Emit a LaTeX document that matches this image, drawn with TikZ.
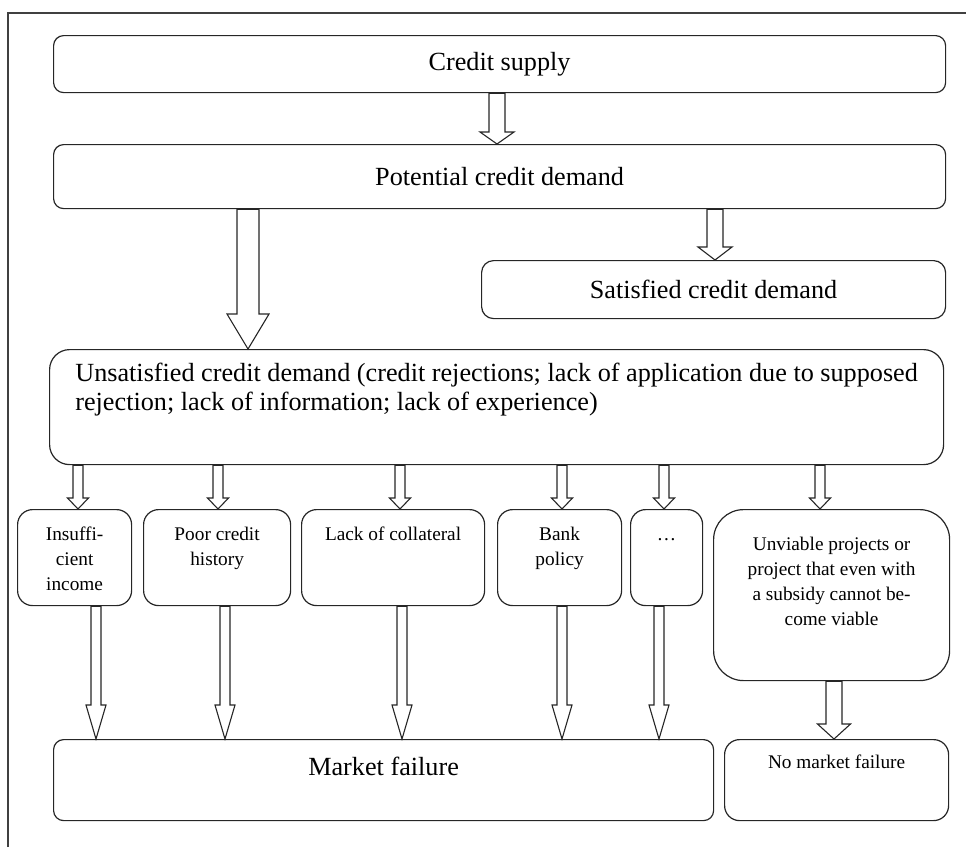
\documentclass[tikz,border=0pt]{standalone}
\usepackage{fontspec}
\setmainfont{Liberation Serif}
\usetikzlibrary{calc}

\tikzset{
  box/.style={draw=black!85, line width=1.2pt, rounded corners=10pt, anchor=north west, inner sep=0pt},
  bigtext/.style={font=\fontsize{26.2}{29}\selectfont},
  smalltext/.style={font=\fontsize{19.3}{25}\selectfont},
  txt/.style={anchor=north, align=center, inner sep=0pt},
  blockarrow/.style={draw=black!85, line width=1.1pt, fill=white, line join=miter}
}

% hollow arrow: x position, from, to, half shaft, half head, head length
\newcommand{\hollowarrow}[6]{%
  \draw[blockarrow] let \p1=(#2.south), \p2=(#3.north) in
    (#1pt-#4pt,\y1) -- (#1pt-#4pt,\y2+#6pt) -- (#1pt-#5pt,\y2+#6pt) -- (#1pt,\y2)
    -- (#1pt+#5pt,\y2+#6pt) -- (#1pt+#4pt,\y2+#6pt) -- (#1pt+#4pt,\y1) -- cycle;}

\begin{document}
\begin{tikzpicture}[x=1pt,y=-1pt]
\useasboundingbox (0,0) rectangle (966,847);
\draw[line width=2pt,black!75] (8,847) -- (8,13) -- (966,13);

  \node[box, bigtext, minimum width=892pt, minimum height=57pt] (supply) at (53,35) {Credit supply};
  \node[box, bigtext, minimum width=892pt, minimum height=64pt] (potential) at (53,144) {Potential credit demand};
  \node[box, bigtext, rounded corners=12pt, minimum width=464pt, minimum height=58pt] (satisfied) at (481,260) {Satisfied credit demand};
  \node[box, rounded corners=20pt, minimum width=894pt, minimum height=115pt,
    label={[txt, bigtext, align=left, yshift=-14pt]north:{Unsatisfied credit demand (credit rejections; lack of application due to supposed\\rejection; lack of information; lack of experience)}}] (unsat) at (49,349) {};

  % reasons
  \node[box, rounded corners=15pt, minimum width=114pt, minimum height=96pt,
    label={[txt, smalltext, yshift=-18pt]north:{Insuffi-\\cient\\income}}] (income) at (17,509) {};
  \node[box, rounded corners=15pt, minimum width=147pt, minimum height=96pt,
    label={[txt, smalltext, yshift=-18pt]north:{Poor credit\\history}}] (history) at (143,509) {};
  \node[box, rounded corners=15pt, minimum width=183pt, minimum height=96pt,
    label={[txt, smalltext, yshift=-18pt]north:{Lack of collateral}}] (collateral) at (301,509) {};
  \node[box, rounded corners=15pt, minimum width=124pt, minimum height=96pt,
    label={[txt, smalltext, yshift=-18pt]north:{Bank\\policy}}] (policy) at (497,509) {};
  \node[box, rounded corners=15pt, minimum width=72pt, minimum height=96pt,
    label={[txt, smalltext, text height=13pt, yshift=-18pt]north:{\dots}}] (more) at (630,509) {};
  \node[box, rounded corners=30pt, minimum width=236pt, minimum height=171pt,
    label={[txt, smalltext, yshift=-28pt]north:{Unviable projects or\\project that even with\\a subsidy cannot be-\\come viable}}] (unviable) at (713,509) {};

  % outcomes
  \node[box, minimum width=660pt, minimum height=81pt,
    label={[txt, bigtext, yshift=-18pt]north:{Market failure}}] (failure) at (53,739) {};
  \node[box, rounded corners=15pt, minimum width=224pt, minimum height=81pt,
    label={[txt, smalltext, yshift=-16pt]north:{No market failure}}] (nofailure) at (724,739) {};

  \hollowarrow{497}{supply}{potential}{8}{17}{12}
  \hollowarrow{248}{potential}{unsat}{11}{21}{35}
  \hollowarrow{715}{potential}{satisfied}{8}{17}{13}
  \foreach \xpos/\tgt in {78/income, 218/history, 400/collateral, 562/policy, 664/more, 820/unviable}
    {\hollowarrow{\xpos}{unsat}{\tgt}{5}{10.5}{11}}
  \foreach \xpos/\src in {96/income, 225/history, 402/collateral, 562/policy, 659/more}
    {\hollowarrow{\xpos}{\src}{failure}{5}{10}{34}}
  \hollowarrow{834}{unviable}{nofailure}{8}{16.5}{15}

 \end{tikzpicture}
\end{document}
